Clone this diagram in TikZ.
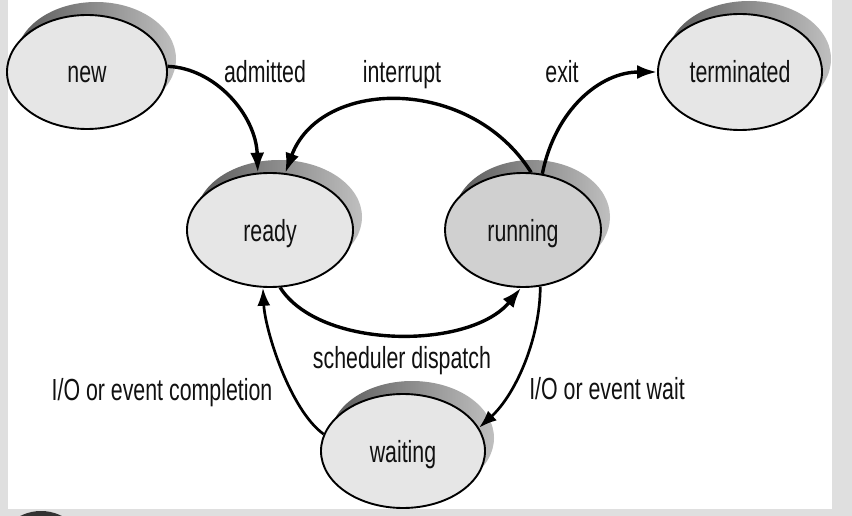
\documentclass[tikz,border=0pt]{standalone}
\usepackage{fontspec}
\setmainfont{Liberation Sans}[FakeStretch=0.7]
\usetikzlibrary{shapes.geometric,arrows.meta}
\definecolor{bg}{HTML}{DFDFDF}
\definecolor{lightfill}{HTML}{E6E6E6}
\definecolor{darkfill}{HTML}{D0D0D0}
\definecolor{txt}{HTML}{111111}
\begin{document}
\begin{tikzpicture}[x=1pt,y=1pt,
  state/.style={ellipse, draw=black, line width=1.9pt, inner sep=0pt,
    text height=22pt, text depth=0pt, text=txt,
    font=\fontsize{30.5}{36}\selectfont, fill=lightfill},
  lbl/.style={anchor=base, inner sep=0pt, text=txt, font=\fontsize{30.5}{36}\selectfont},
  conn/.style={line width=3.4pt, -{Latex[length=20pt,width=14pt]}},
  thinconn/.style={line width=2.7pt, -{Latex[length=18pt,width=13pt]}},
  shadowfill/.style={left color=black!65, right color=black!25}]
\clip (0,0) rectangle (852,-516);
\fill[bg] (0,0) rectangle (852,-516);
\fill[white] (8,0) rectangle (832,-509);
\fill[black!80] (41,-557) circle (46);
% shadows
\foreach \cx/\cy/\rx/\ry in {87/72/80/57, 740/72/82/58, 270/230/83/57, 523/230/78/57, 403/451/82/57}
  \shade[shadowfill] (\cx+9,-\cy+13) ellipse [x radius=\rx, y radius=\ry];
% states
\node[state, minimum width=160pt, minimum height=114pt] (new) at (87,-72) {new};
\node[state, minimum width=164pt, minimum height=116pt] (term) at (740,-72) {terminated};
\node[state, minimum width=166pt, minimum height=114pt] (ready) at (270,-230) {ready};
\node[state, fill=darkfill, minimum width=156pt, minimum height=114pt] (run) at (523,-230) {running};
\node[state, minimum width=164pt, minimum height=114pt] (wait) at (403,-451) {waiting};
% transitions
\draw[conn] (new.4) .. controls (215,-68) and (256,-115) .. (ready.102);
\draw[conn] (run.82) .. controls (470,-75) and (320,-78) .. (ready.75);
\draw[conn] (run.71) .. controls (555,-110) and (600,-72) .. (term.180);
\draw[conn] (ready.-80) .. controls (320,-350) and (470,-350) .. (run.-92);
\draw[thinconn] (wait.168) .. controls (290,-410) and (265,-330) .. (ready.-97);
\draw[thinconn] (run.-73) .. controls (540,-340) and (515,-395) .. (wait.17);
% labels
\node[lbl] (ladm) at (265,-83) {admitted};
\node[lbl] (lint) at (402,-83) {interrupt};
\node[lbl] (lexit) at (562,-83) {exit};
\node[lbl] (lsch) at (402,-368) {scheduler dispatch};
\node[lbl] (lcomp) at (162,-400) {I/O or event completion};
\node[lbl] (lwait) at (607,-399) {I/O or event wait};
\end{tikzpicture}
\end{document}
